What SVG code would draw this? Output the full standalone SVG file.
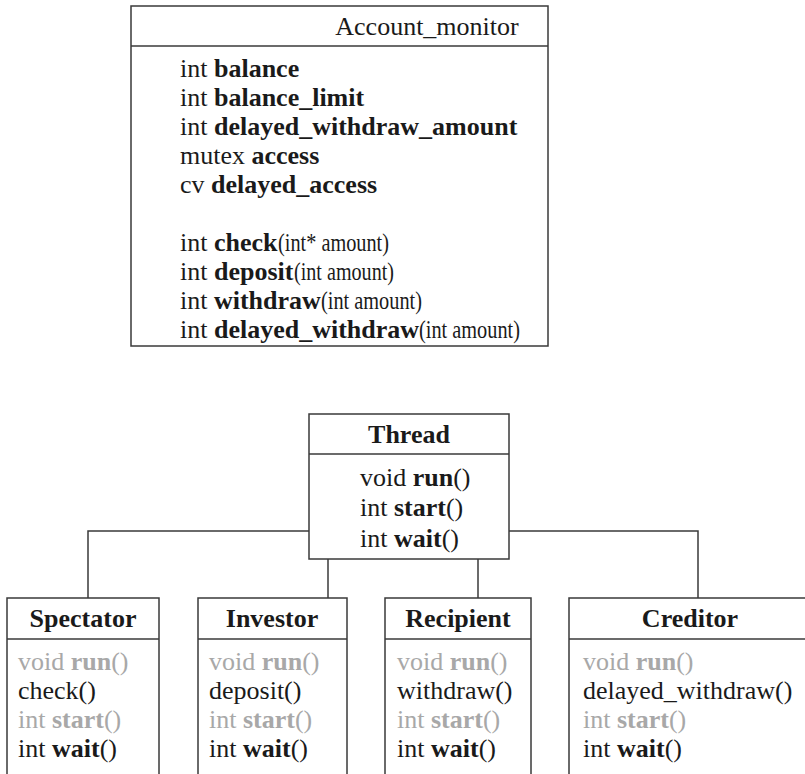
<svg xmlns="http://www.w3.org/2000/svg" width="805" height="774" viewBox="0 0 805 774">
<style>
text{font-family:"Liberation Serif",Tinos,"Times New Roman",serif;font-size:26px;fill:#1a1a1a}
.b{font-weight:bold}
.t{font-weight:bold;text-anchor:middle}
.g{fill:#a8a8a8}
.box{fill:#fff;stroke:#3a3a3a;stroke-width:1.5}
.ln{fill:none;stroke:#3a3a3a;stroke-width:1.5}
</style>
<rect width="805" height="774" fill="#fff"/>
<g id="connectors">
<polyline class="ln" points="309,531 88,531 88,598"/>
<polyline class="ln" points="509,531 698,531 698,598"/>
<line class="ln" x1="328" y1="559" x2="328" y2="598"/>
<line class="ln" x1="478" y1="559" x2="478" y2="598"/>
</g>
<g id="account_monitor">
<rect class="box" x="131" y="6" width="417" height="340"/>
<line class="ln" x1="131" y1="46" x2="548" y2="46"/>
<text x="427" y="35" text-anchor="middle">Account_monitor</text>
<text x="180" y="77">int <tspan class="b">balance</tspan></text>
<text x="180" y="106">int <tspan class="b">balance_limit</tspan></text>
<text x="180" y="135">int <tspan class="b">delayed_withdraw_amount</tspan></text>
<text x="180" y="164">mutex <tspan class="b">access</tspan></text>
<text x="180" y="193">cv <tspan class="b">delayed_access</tspan></text>
<text x="180" y="251">int <tspan class="b">check</tspan></text>
<text x="278" y="251" textLength="111" lengthAdjust="spacingAndGlyphs">(int* amount)</text>
<text x="180" y="280">int <tspan class="b">deposit</tspan></text>
<text x="294" y="280" textLength="100" lengthAdjust="spacingAndGlyphs">(int amount)</text>
<text x="180" y="309">int <tspan class="b">withdraw</tspan></text>
<text x="321" y="309" textLength="101" lengthAdjust="spacingAndGlyphs">(int amount)</text>
<text x="180" y="338">int <tspan class="b">delayed_withdraw</tspan></text>
<text x="419" y="338" textLength="101" lengthAdjust="spacingAndGlyphs">(int amount)</text>
</g>
<g id="thread">
<rect class="box" x="309" y="414" width="200" height="145"/>
<line class="ln" x1="309" y1="454" x2="509" y2="454"/>
<text class="t" x="409" y="443">Thread</text>
<text x="360" y="486">void <tspan class="b">run</tspan>()</text>
<text x="360" y="516">int <tspan class="b">start</tspan>()</text>
<text x="360" y="547">int <tspan class="b">wait</tspan>()</text>
</g>
<g id="spectator">
<rect class="box" x="7" y="598" width="152" height="190"/>
<line class="ln" x1="7" y1="639" x2="159" y2="639"/>
<text class="t" x="83" y="627">Spectator</text>
<text class="g" x="18" y="670">void <tspan class="b">run</tspan>()</text>
<text x="18" y="699">check()</text>
<text class="g" x="18" y="728">int <tspan class="b">start</tspan>()</text>
<text x="18" y="757">int <tspan class="b">wait</tspan>()</text>
</g>
<g id="investor">
<rect class="box" x="198" y="598" width="149" height="190"/>
<line class="ln" x1="198" y1="639" x2="347" y2="639"/>
<text class="t" x="272" y="627">Investor</text>
<text class="g" x="209" y="670">void <tspan class="b">run</tspan>()</text>
<text x="209" y="699">deposit()</text>
<text class="g" x="209" y="728">int <tspan class="b">start</tspan>()</text>
<text x="209" y="757">int <tspan class="b">wait</tspan>()</text>
</g>
<g id="recipient">
<rect class="box" x="385" y="598" width="146" height="190"/>
<line class="ln" x1="385" y1="639" x2="531" y2="639"/>
<text class="t" x="458" y="627">Recipient</text>
<text class="g" x="397" y="670">void <tspan class="b">run</tspan>()</text>
<text x="397" y="699">withdraw()</text>
<text class="g" x="397" y="728">int <tspan class="b">start</tspan>()</text>
<text x="397" y="757">int <tspan class="b">wait</tspan>()</text>
</g>
<g id="creditor">
<rect class="box" x="569" y="598" width="250" height="190"/>
<line class="ln" x1="569" y1="639" x2="819" y2="639"/>
<text class="t" x="690" y="627">Creditor</text>
<text class="g" x="583" y="670">void <tspan class="b">run</tspan>()</text>
<text x="583" y="699">delayed_withdraw()</text>
<text class="g" x="583" y="728">int <tspan class="b">start</tspan>()</text>
<text x="583" y="757">int <tspan class="b">wait</tspan>()</text>
</g>
</svg>
